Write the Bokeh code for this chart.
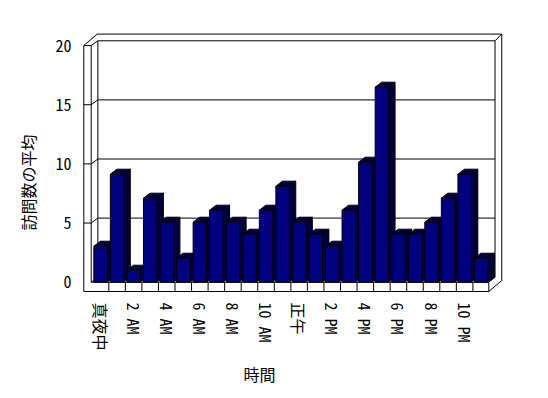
from bokeh.plotting import figure
from bokeh.models import Range1d, FixedTicker, Title, ColumnDataSource
from bokeh.embed import file_html
from bokeh.resources import INLINE

# ---- data ----
hours = ["0", "1", "2", "3", "4", "5", "6", "7", "8", "9", "10", "11",
         "12", "13", "14", "15", "16", "17", "18", "19", "20", "21", "22", "23"]
visits = [3, 9, 1, 7, 5, 2, 5, 6, 5, 4, 6, 8, 5, 4, 3, 6, 10, 16.25, 4, 4, 5, 7, 9, 2]
x_tick_labels = ["真夜中", "2 AM", "4 AM", "6 AM", "8 AM", "10 AM",
                 "正午", "2 PM", "4 PM", "6 PM", "8 PM", "10 PM"]
y_ticks = [0, 5, 10, 15, 20]
y_title = "訪問数の平均"
x_title = "時間"

FONT = "'Noto Sans Mono CJK JP', 'Noto Sans CJK JP'"

# ---- geometry constants (data units; x: 1 per category, y: value) ----
N = len(visits)
YMAX = y_ticks[-1]
PXX, PXY = 16.55, 12.0          # pixels per data unit
BW = 0.81                        # bar width
BDX, BDY = 6.5 / PXX, 5.0 / PXY  # bar depth offset
WDX, WDY = 5.6 / PXX, 5.0 / PXY  # back wall depth offset
WS_BACK = 0.985                  # perspective shrink at back wall
WS_FRONT = 0.986                 # perspective shrink at wall front
XL_IN = -1.05 / PXX              # left wall inner front edge
XL_OUT = XL_IN - 7.4 / PXX       # left wall outer front edge
FT = 9.3 / PXY                   # floor thickness
FR = N - 0.04                    # floor right edge
TH_X, TH_Y = 6.7 / PXX, 6.7 / PXY  # back wall thickness

IT = YMAX * WS_BACK + WDY        # inner top of back wall
OT = IT + TH_Y                   # outer top
IR = N + WDX                     # inner right
OR = IR + TH_X                   # outer right
WT = YMAX * WS_FRONT             # wall front top
OTL = XL_OUT + 13.4 / PXX        # outer top-left x

p = figure(width=548, height=398,
           x_range=Range1d(-0.71, 24.97), y_range=Range1d(-1.108, 20.975),
           output_backend="svg", toolbar_location=None,
           min_border_left=80, min_border_right=43,
           min_border_top=30, min_border_bottom=103)
p.xgrid.visible = False
p.ygrid.visible = False
p.outline_line_color = None
p.background_fill_color = "white"
p.border_fill_color = "white"

# ---- walls & floor ----
segs = [
    ((OTL, OR), (OT, OT)),
    ((OR, OR), (OT, 0.14)),
    ((OR, FR), (0.14, -FT)),
    ((WDX, IR), (IT, IT)),
    ((IR, OR), (IT, OT)),
    ((IR, IR), (IT, WDY)),
    ((IR, FR), (WDY, 0)),
    ((WDX, WDX), (IT, WDY)),
    ((XL_OUT, OTL), (WT, OT)),
    ((XL_IN, WDX), (WT, IT)),
    ((XL_OUT, XL_IN), (WT, WT)),
    ((XL_OUT, XL_OUT), (WT, -FT)),
    ((XL_IN, XL_IN), (WT, 0)),
    ((XL_IN, FR), (0, 0)),
    ((XL_OUT, FR), (-FT, -FT)),
    ((FR, FR), (0, -FT)),
    ((WDX, IR), (WDY, WDY)),
    ((XL_IN, WDX), (0, WDY)),
]
for k in range(1, N):
    segs.append(((k, k), (0, -FT)))
for v in y_ticks[1:-1]:
    yb = v * WS_BACK + WDY
    yf = v * WS_FRONT
    segs.append(((WDX, IR), (yb, yb)))
    segs.append(((XL_IN, WDX), (yf, yb)))
    segs.append(((XL_OUT, XL_IN), (yf, yf)))

p.multi_line(xs=[list(s[0]) for s in segs], ys=[list(s[1]) for s in segs],
             line_color="black", line_width=1)

# ---- bars: side & top faces (in order), then front faces ----
xs, ys = [], []
for i, v in enumerate(visits):
    left = i + 0.5 - BW / 2
    right = i + 0.5 + BW / 2
    xs.append([right, right + BDX, right + BDX, right])
    ys.append([0, BDY, v + BDY, v])
    xs.append([left, right, right + BDX, left + BDX])
    ys.append([v, v, v + BDY, v + BDY])
p.patches(xs=xs, ys=ys, fill_color="#00003c", line_color="black", line_width=1)

src = ColumnDataSource(dict(x=[i + 0.5 for i in range(N)], top=visits))
p.vbar(x="x", top="top", bottom=0, width=BW, source=src,
       fill_color="#000080", line_color="black", line_width=1)

# ---- axes ----
yt = [v * WS_FRONT for v in y_ticks]
p.yaxis.ticker = FixedTicker(ticks=yt)
p.yaxis.major_label_overrides = {t: str(v) for t, v in zip(yt, y_ticks)}
p.yaxis.axis_line_color = None
p.yaxis.major_tick_line_color = None
p.yaxis.minor_tick_line_color = None
p.yaxis.major_tick_out = 0
p.yaxis.major_tick_in = 0
p.yaxis.minor_tick_out = 0
p.yaxis.major_label_standoff = 9
p.yaxis.major_label_text_font = FONT
p.yaxis.major_label_text_font_size = "16px"
p.yaxis.major_label_text_color = "black"

xt = [i + 0.5 for i in range(0, N, 2)]
p.xaxis.ticker = FixedTicker(ticks=xt)
p.xaxis.major_label_overrides = {t: lab for t, lab in zip(xt, x_tick_labels)}
p.xaxis.major_label_orientation = "vertical"
p.xaxis.axis_line_color = None
p.xaxis.major_tick_line_color = None
p.xaxis.minor_tick_line_color = None
p.xaxis.major_tick_out = 0
p.xaxis.major_tick_in = 0
p.xaxis.minor_tick_out = 0
p.xaxis.major_label_standoff = 7
p.xaxis.major_label_text_font = FONT
p.xaxis.major_label_text_font_size = "16px"
p.xaxis.major_label_text_color = "black"

p.add_layout(Title(text=x_title, align="left", offset=163, standoff=12,
                   text_font=FONT, text_font_size="16px",
                   text_font_style="normal", text_color="black"), "below")
p.add_layout(Title(text=y_title, align="left", offset=65, standoff=26,
                   text_font=FONT, text_font_size="16px",
                   text_font_style="normal", text_color="black"), "left")

open("out.html", "w").write(file_html(p, INLINE))
